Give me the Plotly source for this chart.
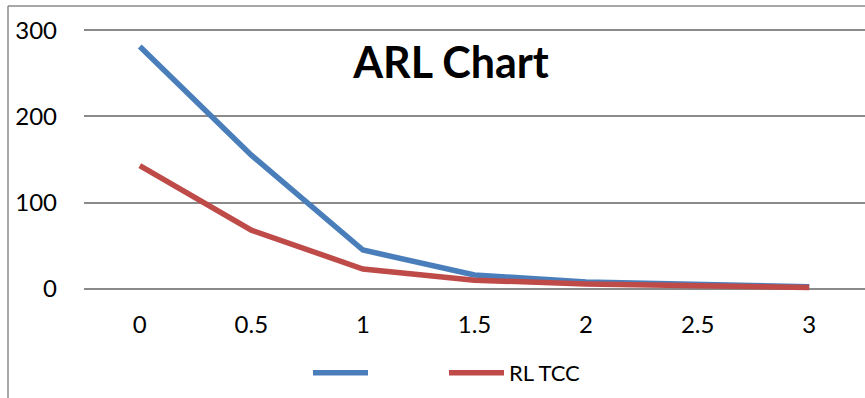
import plotly.graph_objects as go

# Shift values (x categories) and average run length per series
shifts = ["0", "0.5", "1", "1.5", "2", "2.5", "3"]
arl_first = [281, 155, 45, 16, 8, 4.5, 2.5]
arl_tcc = [143, 68, 23, 10, 5.5, 3.5, 1.5]
y_ticks = [0, 100, 200, 300]

FONT = "Lato"
W, H = 865, 398
L, T, B = 84, 25, 104
plot_w = W - L
plot_h = H - T - B

fig = go.Figure()
fig.add_trace(go.Scatter(
    x=shifts, y=arl_first, mode="lines", name="",
    line=dict(color="#4A7EBB", width=5.5),
))
fig.add_trace(go.Scatter(
    x=shifts, y=arl_tcc, mode="lines", name="RL TCC",
    line=dict(color="#BE4B48", width=5.5),
))

# outer chart frame (left and top edges are visible)
fx0 = (8 - L) / plot_w
fy1 = (H - B - 6) / plot_h
fig.add_shape(type="line", xref="paper", yref="paper", x0=fx0, x1=fx0, y0=-1, y1=fy1,
              line=dict(color="#8A8A8A", width=1.5), layer="below")
fig.add_shape(type="line", xref="paper", yref="paper", x0=fx0, x1=1.1, y0=fy1, y1=fy1,
              line=dict(color="#8A8A8A", width=1.5), layer="below")

fig.update_layout(
    width=W, height=H,
    margin=dict(l=L, r=0, t=T, b=B, pad=0),
    paper_bgcolor="white", plot_bgcolor="white",
    font=dict(family=FONT, size=24, color="black"),
    title=dict(text="<b>ARL Chart</b>", font=dict(family=FONT, size=43, color="black"),
               x=(451 - L) / plot_w, xref="paper", xanchor="center",
               y=1 - 63 / H, yref="container", yanchor="middle"),
    showlegend=True,
    legend=dict(orientation="h", x=(308 - L) / plot_w, xanchor="left",
                y=1 - 373 / H, yref="container", yanchor="middle",
                itemwidth=55, entrywidth=66, entrywidthmode="pixels",
                font=dict(family=FONT, size=22, color="black"),
                bgcolor="rgba(0,0,0,0)"),
    xaxis=dict(type="category", range=[-0.5, 6.5], showgrid=False, showline=False,
               zeroline=False, ticks="", ticklabelstandoff=14,
               tickfont=dict(family=FONT, size=24)),
    yaxis=dict(range=[-6, 306], tickvals=y_ticks, showgrid=True, gridcolor="#8A8A8A",
               gridwidth=1.5, zeroline=False, showline=False, ticks="",
               ticklabelstandoff=26, tickfont=dict(family=FONT, size=24)),
)

fig.write_html("out.html")
